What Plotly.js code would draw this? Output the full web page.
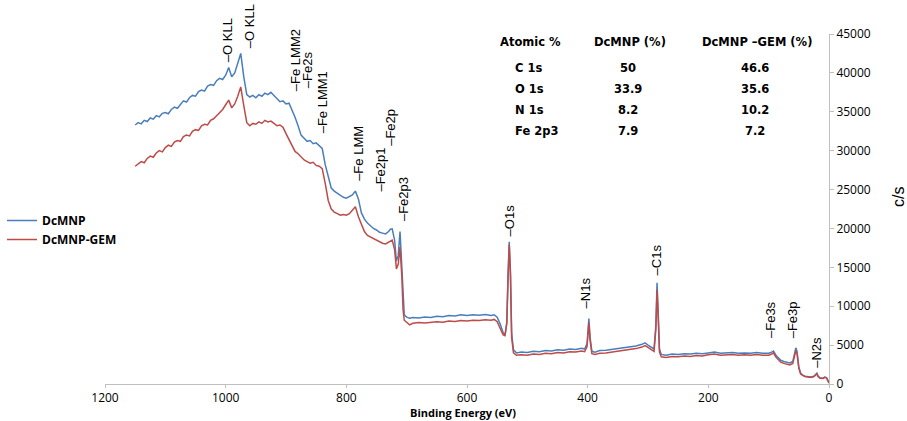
<!DOCTYPE html>
<html>
<head>
<meta charset="utf-8">
<script src="https://cdn.plot.ly/plotly-3.0.1.min.js"></script>
<style>html,body{margin:0;padding:0;background:#fff;}#chart{width:907px;height:421px;}</style>
</head>
<body>
<div id="chart"></div>
<script>
// Binding energy (eV), shared by both spectra
const energy = [
1150,1145,1140,1135,1130,1125,1120,1115,1110,1105,1100,1095,1090,1085,1080,1075,1070,1065,1060,1055,1050,1045,1040,1035,1030,1025,1020,1015,1010,1005,1000,
995,990,985,980,975,970,965,960,955,950,945,940,935,930,925,920,915,910,905,900,895,890,885,880,875,870,865,860,855,850,845,840,835,830,825,820,815,810,805,800,795,790,785,780,775,770,765,760,755,750,745,740,735,730,
727,724,720,717,714,711,708,706,704,700,695,690,
680,670,660,650,640,630,620,610,600,590,580,570,560,
555,550,545,540,537,534,532,530,528,526,523,518,510,
500,490,480,470,460,450,440,430,420,410,
405,401,398,396,393,388,
380,370,360,350,340,330,320,310,
305,300,295,290,287,285,283,281,278,
270,260,250,240,230,220,210,200,190,180,170,160,150,140,130,120,110,100,
95,92,88,84,80,75,70,65,60,57,55,53,50,47,44,40,35,30,25,22,20,18,15,10,7,4,2,0
];

// DcMNP counts (c/s)
const dcmnp = [
33300,33600,33450,33900,33750,34200,34050,34500,34350,34800,34900,34750,35300,35600,35450,36000,36400,36250,36800,37100,37000,37600,37800,37650,38300,38500,38400,39000,39300,39150,39700,
40700,39500,40000,41300,42500,39500,37200,36900,37100,36800,37200,37000,37400,37200,37500,37100,36700,36300,36400,36000,36100,35300,34300,33200,32000,31600,31200,31300,30900,31000,30600,30300,28200,26500,25200,24800,24500,24300,24000,23900,24100,24300,24800,23800,22000,21200,20700,20300,20000,19800,19500,19400,19300,19600,
19900,19950,18500,15800,16500,19600,15000,10500,8900,8600,8450,8550,
8500,8600,8550,8700,8650,8800,8750,8900,8800,8900,8850,8950,8800,
8900,8600,7700,6600,6300,8000,14000,18300,14500,6500,4400,4000,4100,
4050,4200,4150,4300,4250,4400,4350,4500,4450,4600,
4500,5200,8400,6000,4200,4100,
4300,4350,4450,4600,4700,4800,4900,5100,
5300,5000,4700,4500,7500,13000,9000,4500,3800,
3700,3850,3800,3900,3850,3950,3900,4000,4100,3950,4000,4050,3950,4000,3950,4050,3950,3950,
4100,4250,3700,3300,3050,2900,2750,2700,2900,3800,4650,4200,2200,1400,1150,1000,950,900,1000,1200,1400,1000,800,750,900,800,500,150
];

// DcMNP-GEM counts (c/s)
const dcmnpGem = [
28000,28300,28600,28450,29000,29300,29150,29700,30000,29850,30400,30700,30550,31100,31300,31200,31800,32000,31900,32500,32700,32600,33200,33400,33300,33900,34100,34500,34900,35300,35900,
36500,35500,36000,37000,38200,35800,33600,33200,33500,33400,33700,33500,33900,33700,33800,33500,33200,33300,33000,32200,31400,30600,29900,29600,29200,28800,28600,28400,28500,28100,28000,27700,25800,23600,22500,22100,21900,21700,21800,21700,21900,22300,22800,21500,20500,19600,19100,18900,18600,18400,18200,18100,18000,18200,
18300,18500,17300,14800,15400,17600,13800,9600,8200,7900,7600,7800,
7900,7850,7950,8000,7950,8100,8050,8150,8100,8200,8150,8250,8200,
8300,8000,7200,6300,6200,7800,13500,17900,14000,6000,4000,3700,3750,
3700,3850,3800,3950,3900,4050,4000,4150,4100,4250,
4150,4800,7900,5600,3900,3800,
3950,4000,4100,4250,4350,4450,4550,4750,
4950,4700,4400,4200,7000,12100,8400,4100,3500,
3400,3550,3500,3600,3550,3650,3600,3750,3850,3700,3750,3800,3700,3750,3700,3800,3700,3700,
3850,4000,3450,3050,2800,2650,2500,2450,2650,3500,4300,3900,2000,1300,1100,950,900,850,950,1150,1300,950,750,700,850,750,450,120
];

const seriesNames = ['DcMNP', 'DcMNP-GEM'];

// Peak labels
const peakLabels = ['O KLL','O KLL','Fe LMM2','Fe2s','Fe LMM1','Fe LMM','Fe2p1','Fe2p','Fe2p3','O1s','N1s','C1s','Fe3s','Fe3p','N2s'];
const peakEnergy = [998, 960, 885, 864, 840, 781, 744, 728, 706, 529, 403, 286, 96, 59, 21];
const peakLabelBase = [41100, 42900, 37400, 37800, 32000, 25900, 24500, 30400, 20700, 18700, 9500, 13700, 5600, 5600, 1800];

// Atomic % table
const tableHeader = ['Atomic %', 'DcMNP (%)', 'DcMNP \u2013GEM (%)'];
const tableRows = ['C 1s', 'O 1s', 'N 1s', 'Fe 2p3'];
const dcmnpPct = ['50', '33.9', '8.2', '7.9'];
const gemPct = ['46.6', '35.6', '10.2', '7.2'];

const traces = [
  {x: energy, y: dcmnp, name: seriesNames[0], type: 'scatter', mode: 'lines',
   line: {color: '#4a7ebb', width: 1.5}},
  {x: energy, y: dcmnpGem, name: seriesNames[1], type: 'scatter', mode: 'lines',
   line: {color: '#be4b48', width: 1.5}}
];

const annotations = [];
peakLabels.forEach((t, i) => {
  annotations.push({x: peakEnergy[i], y: peakLabelBase[i], xref: 'x', yref: 'y',
    text: '\u2013' + t, showarrow: false, textangle: -90, xanchor: 'center', yanchor: 'bottom',
    font: {family: 'Liberation Sans, Arial, sans-serif', size: 13, color: '#000'}});
});

const tblFont = {family: 'DejaVu Sans, sans-serif', size: 11.5, color: '#000', weight: 'bold'};
const W = 724, H = 350, L = 105, T = 34;
function px(xp) { return (xp - L) / W; }
function py(yp) { return (T + H - yp) / H; }
const colX = [px(498), px(630), px(757)];
annotations.push({x: colX[0], y: py(42), xref: 'paper', yref: 'paper', text: tableHeader[0], showarrow: false, xanchor: 'left', yanchor: 'middle', font: tblFont});
annotations.push({x: colX[1], y: py(42), xref: 'paper', yref: 'paper', text: tableHeader[1], showarrow: false, xanchor: 'center', yanchor: 'middle', font: tblFont});
annotations.push({x: colX[2], y: py(42), xref: 'paper', yref: 'paper', text: tableHeader[2], showarrow: false, xanchor: 'center', yanchor: 'middle', font: tblFont});
const rowY = [68, 89, 110, 131];
tableRows.forEach((r, i) => {
  annotations.push({x: px(513), y: py(rowY[i]), xref: 'paper', yref: 'paper', text: r, showarrow: false, xanchor: 'left', yanchor: 'middle', font: tblFont});
  annotations.push({x: px(628), y: py(rowY[i]), xref: 'paper', yref: 'paper', text: dcmnpPct[i], showarrow: false, xanchor: 'center', yanchor: 'middle', font: tblFont});
  annotations.push({x: px(755), y: py(rowY[i]), xref: 'paper', yref: 'paper', text: gemPct[i], showarrow: false, xanchor: 'center', yanchor: 'middle', font: tblFont});
});

// y-axis title on the far right
annotations.push({x: px(898), y: py(197), xref: 'paper', yref: 'paper', text: 'c/s', showarrow: false,
  textangle: -90, xanchor: 'center', yanchor: 'middle',
  font: {family: 'Liberation Sans, Arial, sans-serif', size: 16, color: '#000'}});

// x-axis title
annotations.push({x: px(463), y: py(412), xref: 'paper', yref: 'paper', text: 'Binding Energy (eV)', showarrow: false,
  xanchor: 'center', yanchor: 'middle',
  font: {family: 'Open Sans, sans-serif', size: 11, color: '#000', weight: 'bold'}});

const layout = {
  width: 907, height: 421,
  margin: {l: L, r: 907 - L - W, t: T, b: 421 - T - H, autoexpand: false},
  paper_bgcolor: '#fff', plot_bgcolor: '#fff',
  showlegend: true,
  legend: {x: px(2), y: py(206), xanchor: 'left', yanchor: 'top', bgcolor: 'rgba(0,0,0,0)',
    font: {family: 'Open Sans, sans-serif', size: 12, color: '#000', weight: 'bold'},
    itemwidth: 30, tracegroupgap: 0},
  xaxis: {range: [1200, 0], autorange: false, showgrid: false, zeroline: false,
    showline: true, linecolor: '#bfbfbf', linewidth: 1,
    ticks: 'outside', ticklen: 3, tickcolor: '#bfbfbf', tickvals: [1200, 1000, 800, 600, 400, 200, 0],
    tickfont: {family: 'Open Sans, sans-serif', size: 12, color: '#000'}},
  yaxis: {side: 'right', range: [0, 45000], autorange: false, showgrid: false, zeroline: false,
    showline: true, linecolor: '#bfbfbf', linewidth: 1,
    ticks: 'outside', ticklen: 4, tickcolor: '#bfbfbf', dtick: 5000, tickformat: 'd',
    tickfont: {family: 'Open Sans, sans-serif', size: 12, color: '#000'}},
  annotations: annotations
};

Plotly.newPlot('chart', traces, layout, {displayModeBar: false, staticPlot: true});
</script>
</body>
</html>
